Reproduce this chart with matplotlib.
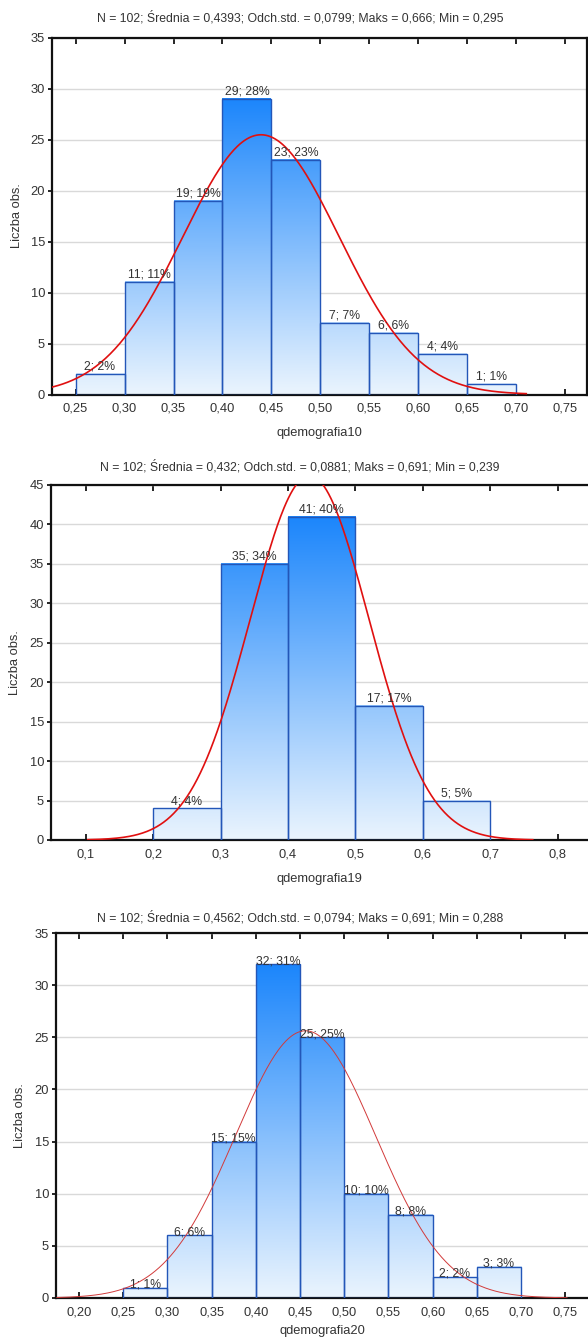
import numpy as np
import matplotlib
matplotlib.use("Agg")
import matplotlib.pyplot as plt
from matplotlib.colors import LinearSegmentedColormap

plt.rcParams['font.family'] = ['Liberation Sans', 'DejaVu Sans']

# --- data ---
N = 102
titles = ["N = 102; Średnia = 0,4393; Odch.std. = 0,0799; Maks = 0,666; Min = 0,295",
          "N = 102; Średnia = 0,432; Odch.std. = 0,0881; Maks = 0,691; Min = 0,239",
          "N = 102; Średnia = 0,4562; Odch.std. = 0,0794; Maks = 0,691; Min = 0,288"]
xlabels = ["qdemografia10", "qdemografia19", "qdemografia20"]
means = [0.4393, 0.432, 0.4562]
sds = [0.0799, 0.0881, 0.0794]

edges10 = [0.25, 0.30, 0.35, 0.40, 0.45, 0.50, 0.55, 0.60, 0.65, 0.70]
counts10 = [2, 11, 19, 29, 23, 7, 6, 4, 1]
pct10 = [2, 11, 19, 28, 23, 7, 6, 4, 1]

edges19 = [0.2, 0.3, 0.4, 0.5, 0.6, 0.7]
counts19 = [4, 35, 41, 17, 5]
pct19 = [4, 34, 40, 17, 5]

edges20 = [0.25, 0.30, 0.35, 0.40, 0.45, 0.50, 0.55, 0.60, 0.65, 0.70]
counts20 = [1, 6, 15, 32, 25, 10, 8, 2, 3]
pct20 = [1, 6, 15, 31, 25, 10, 8, 2, 3]

xticks10 = [0.25, 0.30, 0.35, 0.40, 0.45, 0.50, 0.55, 0.60, 0.65, 0.70, 0.75]
xticks19 = [0.1, 0.2, 0.3, 0.4, 0.5, 0.6, 0.7, 0.8]
xticks20 = [0.20, 0.25, 0.30, 0.35, 0.40, 0.45, 0.50, 0.55, 0.60, 0.65, 0.70, 0.75]
ytop = [35, 45, 35]
curve_span = [(0.226, 0.71), (0.103, 0.763), (0.175, 0.752)]

# --- layout (pixels of the 588x1342 picture) ---
W, H = 588, 1342
boxes = [(52, 587, 37.5, 394.5, (0.226, 0.772), 2),
         (51, 588, 485, 840, (0.0484, 0.845), 1),
         (56, 588, 933, 1298, (0.174, 0.7757), 2)]
ylab_x = [23, 21, 26]   # right edge of the rotated label
title_y = [18, 467, 918]

cmap = LinearSegmentedColormap.from_list("bars", ["#eaf4fe", "#1c86fb"])
panels = [(edges10, counts10, pct10, xticks10),
          (edges19, counts19, pct19, xticks19),
          (edges20, counts20, pct20, xticks20)]

fig = plt.figure(figsize=(W / 100, H / 100), dpi=100)
for i, ((edges, counts, pcts, xt), (l, r, t, b, xl, dec)) in enumerate(zip(panels, boxes)):
    ax = fig.add_axes([l / W, 1 - b / H, (r - l) / W, (b - t) / H])
    hmax = max(counts)
    for x0, x1, h in zip(edges[:-1], edges[1:], counts):
        g = np.linspace(0, h / hmax, 128).reshape(-1, 1)
        ax.imshow(g, extent=[x0, x1, 0, h], aspect='auto', cmap=cmap, vmin=0, vmax=1,
                  origin='lower', zorder=2, interpolation='bilinear')
    widths = np.diff(edges)
    ax.bar(edges[:-1], counts, width=widths, align='edge', color='none',
           edgecolor='#2356b8', linewidth=1.0, zorder=3)
    off = -2 if i == 2 else 1
    for x0, x1, h, p in zip(edges[:-1], edges[1:], counts, pcts):
        ax.annotate(f"{h}; {p}%", ((x0 + x1) / 2, h), xytext=(0, off), textcoords='offset points',
                    ha='center', va='bottom', fontsize=8.8, color='#333333', zorder=5)
    # fitted normal curve
    bw = edges[1] - edges[0]
    xs = np.linspace(curve_span[i][0], curve_span[i][1], 400)
    ys = N * bw * np.exp(-0.5 * ((xs - means[i]) / sds[i]) ** 2) / (sds[i] * np.sqrt(2 * np.pi))
    if i == 2:
        ax.plot(xs, ys, color='#d23a3a', lw=0.7, zorder=4)
    else:
        ax.plot(xs, ys, color='#e01010', lw=1.2, zorder=4)

    ax.set_xlim(*xl)
    ax.set_ylim(0, ytop[i])
    ax.set_xticks(xt)
    ax.set_xticklabels([f"{v:.{dec}f}".replace('.', ',') for v in xt])
    ax.set_yticks(range(0, ytop[i] + 1, 5))
    ax.yaxis.grid(True, color='#d9d9d9', lw=1.0, zorder=0)
    ax.set_axisbelow(True)
    ax.tick_params(axis='x', direction='in', top=True, bottom=True, length=4, width=1.2,
                   pad=6, labelsize=9.3, labelcolor='#333333')
    ax.tick_params(axis='y', direction='out', left=True, right=False, length=3, width=1.2,
                   pad=2, labelsize=9.3, labelcolor='#333333')
    for s in ax.spines.values():
        s.set_linewidth(1.6)
        s.set_color('#111111')
    if i > 0:
        ax.spines['right'].set_visible(False)
    ax.set_xlabel(xlabels[i], fontsize=9.3, color='#333333', labelpad=9 if i < 2 else 5)
    ax.set_ylabel("Liczba obs.", fontsize=9.3, color='#333333')
    ax.yaxis.set_label_coords((ylab_x[i] - l) / (r - l), 0.5)
    fig.text(300 / W, 1 - title_y[i] / H, titles[i], ha='center', va='center',
             fontsize=8.85, color='#333333')

fig.savefig("out.png", dpi=100)
